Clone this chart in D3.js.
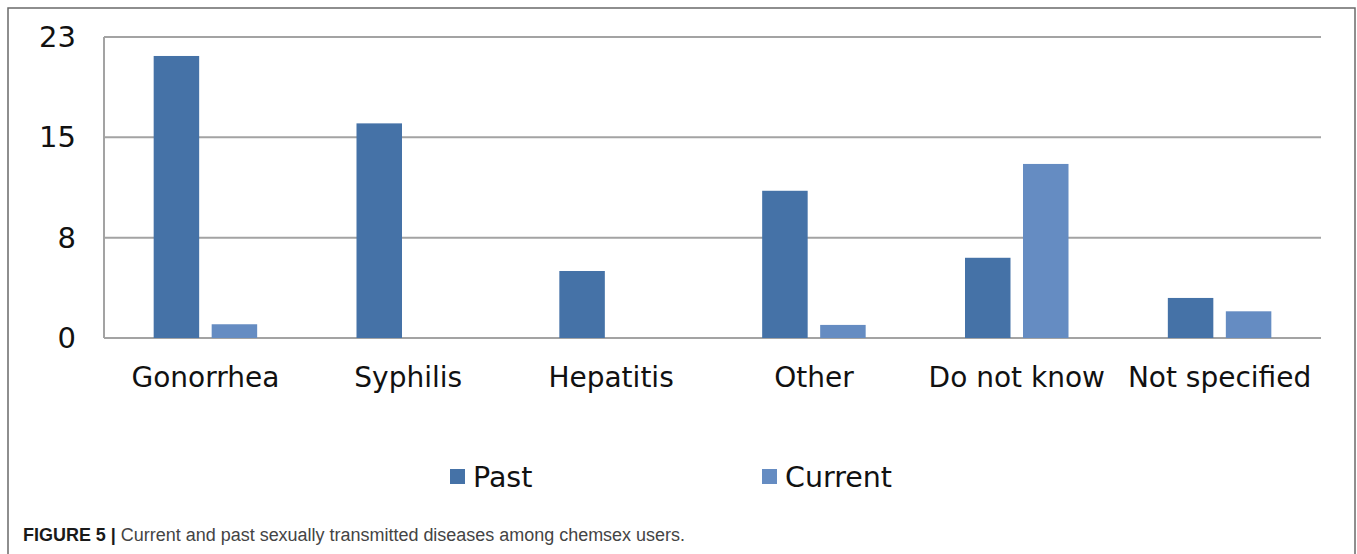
<!DOCTYPE html>
<html>
<head>
<meta charset="utf-8">
<script src="https://cdn.jsdelivr.net/npm/d3@7"></script>
<style>
  html, body { margin: 0; padding: 0; background: #fff; }
  svg { display: block; }
</style>
</head>
<body>
<svg id="chart" width="1357" height="554"></svg>
<script>
const categories = ["Gonorrhea", "Syphilis", "Hepatitis", "Other", "Do not know", "Not specified"];
const pastValues = [21.55, 16.4, 5.12, 11.25, 6.13, 3.06];
const currentValues = [1.05, 0, 0, 1.0, 13.3, 2.04];
const seriesNames = ["Past", "Current"];
const yTickValues = [0, 23 / 3, 46 / 3, 23];
const captionBold = "FIGURE 5 |";
const captionText = " Current and past sexually transmitted diseases among chemsex users.";

const colors = { Past: "#4572a7", Current: "#658cc2" };

const svg = d3.select("#chart");
const plot = { left: 104, right: 1321, top: 37, bottom: 338 };

// outer frame
svg.append("rect")
  .attr("x", 8).attr("y", 8)
  .attr("width", 1347).attr("height", 600)
  .attr("fill", "none").attr("stroke", "#6a6a6a").attr("stroke-width", 1.5);

const x = d3.scaleBand().domain(categories).range([plot.left, plot.right]).padding(0);
const y = d3.scaleLinear().domain([0, 23]).range([plot.bottom, plot.top]);

// gridlines
svg.append("g").selectAll("line").data(yTickValues).join("line")
  .attr("x1", plot.left).attr("x2", plot.right)
  .attr("y1", d => y(d)).attr("y2", d => y(d))
  .attr("stroke", "#a3a3a3").attr("stroke-width", 2);

// y axis line
svg.append("line")
  .attr("x1", plot.left).attr("x2", plot.left)
  .attr("y1", y(23)).attr("y2", y(0))
  .attr("stroke", "#a3a3a3").attr("stroke-width", 2);

// y tick labels
svg.append("g").selectAll("text").data(yTickValues).join("text")
  .attr("x", 76).attr("y", d => y(d))
  .attr("dy", "0.35em")
  .attr("text-anchor", "end")
  .attr("font-family", "DejaVu Sans, Verdana, sans-serif")
  .attr("font-size", 29)
  .attr("fill", "#111")
  .text(d => Math.round(d));

// bars
const barW = 45.5, gap = 12.5;
const groupW = barW * 2 + gap;
const data = categories.map((c, i) => ({ cat: c, Past: pastValues[i], Current: currentValues[i] }));
const gBars = svg.append("g");
seriesNames.forEach((s, si) => {
  gBars.append("g").selectAll("rect").data(data.filter(d => d[s] > 0)).join("rect")
    .attr("x", d => x(d.cat) + x.bandwidth() / 2 - groupW / 2 + si * (barW + gap))
    .attr("y", d => y(d[s]))
    .attr("width", barW)
    .attr("height", d => y(0) - y(d[s]))
    .attr("fill", colors[s]);
});

// x category labels
svg.append("g").selectAll("text").data(categories).join("text")
  .attr("x", d => x(d) + x.bandwidth() / 2)
  .attr("y", 387)
  .attr("text-anchor", "middle")
  .attr("font-family", "DejaVu Sans, Verdana, sans-serif")
  .attr("font-size", 28)
  .attr("fill", "#111")
  .text(d => d);

// legend
const legendX = [450, 762];
seriesNames.forEach((s, i) => {
  svg.append("rect")
    .attr("x", legendX[i]).attr("y", 469)
    .attr("width", 15).attr("height", 15)
    .attr("fill", colors[s]);
  svg.append("text")
    .attr("x", legendX[i] + 23).attr("y", 487)
    .attr("font-family", "DejaVu Sans, Verdana, sans-serif")
    .attr("font-size", 28.5)
    .attr("fill", "#111")
    .text(s);
});

// caption
const cap = svg.append("text")
  .attr("x", 23).attr("y", 541)
  .attr("font-family", "Liberation Sans, Arial, sans-serif")
  .attr("font-size", 18)
  .attr("textLength", 662)
  .attr("lengthAdjust", "spacingAndGlyphs");
cap.append("tspan").attr("font-weight", "bold").attr("fill", "#1a1a1a").text(captionBold);
cap.append("tspan").attr("fill", "#444").text(captionText);
</script>
</body>
</html>
